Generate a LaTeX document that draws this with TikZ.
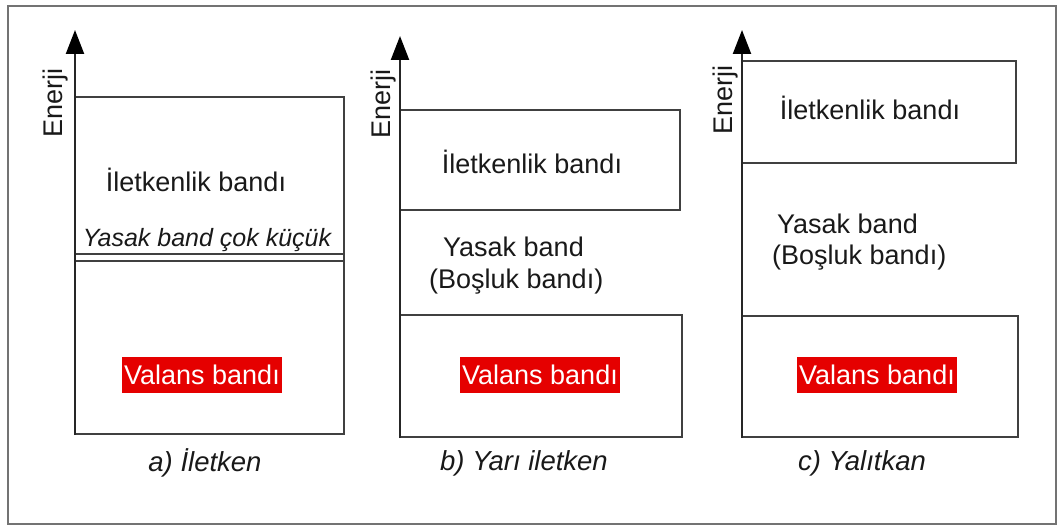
\documentclass[tikz,border=0pt]{standalone}
\usepackage{fontspec}
\setmainfont{Liberation Sans}
\usetikzlibrary{arrows.meta}
\begin{document}
\begin{tikzpicture}[x=1pt,y=-1pt,
  lbl/.style={inner sep=0pt,font=\fontsize{27}{32}\selectfont,text=black!90},
  captxt/.style={lbl,font=\fontsize{27.5}{32}\selectfont\itshape},
  smallit/.style={lbl,font=\fontsize{25}{30}\selectfont\itshape},
  band/.style={draw=black!75,line width=1.8pt},
  axis/.style={draw=black!85,line width=2.2pt,-{Triangle[length=24pt,width=18pt,color=black]}},
  redlbl/.style={fill=red!90!black,text=white,inner sep=2pt,minimum width=156pt,minimum height=36pt,font=\fontsize{27}{32}\selectfont},
  ener/.style={lbl,rotate=90}]
\useasboundingbox (0,0) rectangle (1059,527);
\draw[draw=black!55,line width=2pt] (8,6) rectangle (1056,524);

% ---- panel a
\coordinate (a0) at (75,435);
\coordinate (a1) at (75,30);
\draw[band] (75,97) -- (344,97) -- (344,434) -- (75,434);
\draw[band] (75,254) -- (344,254);
\draw[band] (75,261) -- (344,261);
\draw[axis] (a0) -- (a1);
\node[ener] (ea) at (56,103) {Enerji};
\node[lbl] (ia) at (196,180) {İletkenlik bandı};
\node[smallit] (ya) at (207,240) {Yasak band çok küçük};
\node[redlbl] (va) at (202,375) {Valans bandı};
\node[captxt] (ca) at (205,463) {a) İletken};

% ---- panel b
\coordinate (b0) at (400,438);
\coordinate (b1) at (400,36);
\draw[band] (400,110) -- (680,110) -- (680,210) -- (400,210);
\draw[band] (400,315) -- (682,315) -- (682,437) -- (400,437);
\draw[axis] (b0) -- (b1);
\node[ener] (eb) at (384,104) {Enerji};
\node[lbl] (ib) at (532,162) {İletkenlik bandı};
\node[lbl,anchor=west] (yb) at (443,247) {Yasak band};
\node[lbl,anchor=west] (bb) at (429,282) {(Boşluk bandı)};
\node[redlbl] (vb) at (540,375) {Valans bandı};
\node[captxt] (cb) at (524,463) {b) Yarı iletken};

% ---- panel c
\coordinate (c0) at (742,438);
\coordinate (c1) at (742,30);
\draw[band] (742,61) -- (1016,61) -- (1016,163) -- (742,163);
\draw[band] (742,316) -- (1018,316) -- (1018,437) -- (742,437);
\draw[axis] (c0) -- (c1);
\node[ener] (ec) at (726,100) {Enerji};
\node[lbl] (ic) at (870,108) {İletkenlik bandı};
\node[lbl,anchor=west] (yc) at (777,224) {Yasak band};
\node[lbl,anchor=west] (bc) at (772,258) {(Boşluk bandı)};
\node[redlbl] (vc) at (877,375) {Valans bandı};
\node[captxt] (cc) at (862,463) {c) Yalıtkan};
\end{tikzpicture}
\end{document}
